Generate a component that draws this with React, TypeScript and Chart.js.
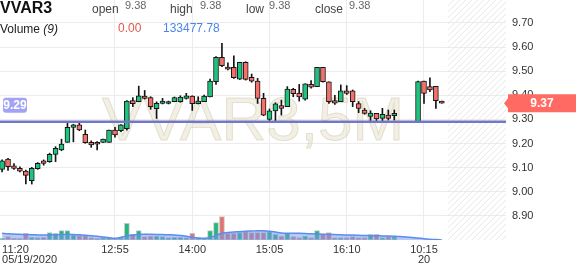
import React, { useEffect, useRef } from "react";
import { Chart, registerables } from "chart.js";

Chart.register(...registerables);

const FONT = '"Liberation Sans", Arial, Helvetica, sans-serif';

const symbol = "VVAR3";
const watermarkText = "VVAR3,5M";
const headerOpen = "9.38";
const headerHigh = "9.38";
const headerLow = "9.38";
const headerClose = "9.38";
const headerVolume = "0.00";
const headerVolumeMA = "133477.78";
const supportLevel = 9.29;

const opens = [9.093, 9.135, 9.107, 9.097, 9.086, 9.046, 9.096, 9.128, 9.125, 9.155,
  9.173, 9.205, 9.267, 9.277, 9.238, 9.205, 9.205, 9.205, 9.205, 9.256,
  9.253, 9.262, 9.378, 9.373, 9.397, 9.390, 9.344, 9.366, 9.366, 9.373,
  9.373, 9.387, 9.397, 9.365, 9.373, 9.393, 9.456, 9.557, 9.517, 9.516,
  9.467, 9.537, 9.474, 9.459, 9.387, 9.300, 9.335, 9.357, 9.353, 9.425,
  9.409, 9.384, 9.445, 9.436, 9.516, 9.456, 9.378, 9.374, 9.418, 9.418,
  9.366, 9.339, 9.312, 9.325, 9.304, 9.318, 9.315, null, null, null,
  9.290, 9.459, 9.436, 9.437, 9.376];

const highs = [9.132, 9.139, 9.117, 9.103, 9.090, 9.101, 9.121, 9.132, 9.160, 9.187,
  9.218, 9.287, 9.280, 9.287, 9.256, 9.211, 9.208, 9.218, 9.256, 9.267,
  9.279, 9.378, 9.390, 9.438, 9.420, 9.394, 9.373, 9.387, 9.376, 9.393,
  9.398, 9.408, 9.398, 9.394, 9.401, 9.467, 9.560, 9.615, 9.535, 9.564,
  9.537, 9.539, 9.488, 9.470, 9.408, 9.343, 9.369, 9.380, 9.436, 9.429,
  9.445, 9.447, 9.461, 9.516, 9.516, 9.456, 9.400, 9.443, 9.440, 9.422,
  9.374, 9.346, 9.336, 9.325, 9.346, 9.339, 9.339, null, null, null,
  9.459, 9.459, 9.472, 9.437, 9.376];

const lows = [9.082, 9.088, 9.093, 9.082, 9.032, 9.032, 9.093, 9.110, 9.122, 9.125,
  9.170, 9.205, 9.207, 9.253, 9.201, 9.184, 9.173, 9.205, 9.205, 9.226,
  9.249, 9.255, 9.353, 9.373, 9.384, 9.342, 9.304, 9.364, 9.364, 9.373,
  9.371, 9.384, 9.337, 9.364, 9.373, 9.393, 9.445, 9.519, 9.505, 9.470,
  9.465, 9.463, 9.454, 9.366, 9.315, 9.293, 9.288, 9.318, 9.353, 9.394,
  9.376, 9.380, 9.429, 9.436, 9.454, 9.366, 9.362, 9.374, 9.403, 9.353,
  9.328, 9.321, 9.295, 9.290, 9.293, 9.297, 9.297, null, null, null,
  9.290, 9.366, 9.415, 9.346, 9.367];

const closes = [9.128, 9.104, 9.097, 9.085, 9.068, 9.097, 9.118, 9.118, 9.155, 9.180,
  9.198, 9.267, 9.277, 9.256, 9.204, 9.194, 9.197, 9.218, 9.256, 9.236,
  9.277, 9.376, 9.365, 9.398, 9.387, 9.353, 9.367, 9.376, 9.374, 9.390,
  9.393, 9.398, 9.365, 9.376, 9.397, 9.459, 9.557, 9.523, 9.508, 9.473,
  9.537, 9.466, 9.459, 9.387, 9.318, 9.336, 9.365, 9.346, 9.426, 9.407,
  9.393, 9.447, 9.434, 9.516, 9.456, 9.373, 9.367, 9.418, 9.408, 9.374,
  9.345, 9.325, 9.326, 9.302, 9.321, 9.304, 9.325, null, null, null,
  9.457, 9.408, 9.422, 9.378, 9.367];

const volumes = [51000, 99000, 51000, 51000, 201000, 81000, 69000, 81000, 219000, 201000,
  279000, 279000, 150000, 129000, 129000, 69000, 51000, 69000, 69000, 51000,
  69000, 501000, 171000, 279000, 99000, 120000, 120000, 99000, 69000, 81000,
  81000, 69000, 201000, 69000, 51000, 279000, 519000, 699000, 201000, 201000,
  219000, 249000, 219000, 219000, 219000, 249000, 171000, 120000, 201000, 99000,
  69000, 120000, 69000, 279000, 171000, 219000, 69000, 69000, 69000, 99000,
  69000, 69000, 171000, 171000, 69000, 99000, 99000, null, null, null,
  0, 0, 0, 0, 0];

const volumeMA = [201000, 189000, 180000, 171000, 162000, 156000, 153000, 150000, 150000, 156000,
  165000, 171000, 165000, 156000, 144000, 129000, 111000, 90000, 69000, 51000,
  84000, 120000, 150000, 168000, 171000, 171000, 168000, 162000, 156000, 150000,
  135000, 114000, 84000, 60000, 54000, 75000, 135000, 204000, 225000, 240000,
  249000, 261000, 270000, 279000, 279000, 264000, 240000, 210000, 201000, 201000,
  201000, 195000, 186000, 180000, 174000, 168000, 162000, 156000, 150000, 147000,
  141000, 135000, 129000, 126000, 123000, 120000, 114000, 105000, 90000, 75000,
  60000, 39000, 24000, 12000, 3000];

const xTickIndex = [0, 19, 32, 45, 58, 71];
const xTickLabels: any[] = [["11:20", "05/19/2020"], "12:55", "14:00", "15:05", "16:10", ["10:15", "20"]];
const yTicks = [8.9, 9.0, 9.1, 9.2, 9.3, 9.4, 9.5, 9.6, 9.7];

const X_MIN = -0.35;
const X_MAX = 84.8;
const Y_MIN = 8.8;
const Y_MAX = 9.795;
const VOL_MAX = 7200000;

const GREEN = "#1cc47f";
const RED = "#f4716a";

const overlayPlugin = {
  id: "overlay",
  beforeDatasetsDraw(chart: any) {
    const { ctx, chartArea: a, scales } = chart;
    // watermark
    ctx.save();
    ctx.font = `62px ${FONT}`;
    ctx.textAlign = "center";
    ctx.textBaseline = "alphabetic";
    ctx.fillStyle = "rgba(226,219,196,0.45)";
    ctx.fillText(watermarkText, (a.left + a.right) / 2, a.top + 140);
    ctx.strokeStyle = "rgba(205,196,166,0.45)";
    ctx.lineWidth = 1;
    ctx.strokeText(watermarkText, (a.left + a.right) / 2, a.top + 140);
    ctx.restore();
    // future hatched zone
    const x0 = scales.x.getPixelForValue(opens.length);
    const h = a.bottom - a.top;
    ctx.save();
    ctx.beginPath();
    ctx.rect(x0, a.top, a.right - x0, h);
    ctx.clip();
    ctx.beginPath();
    ctx.strokeStyle = "#e6e6e6";
    ctx.lineWidth = 1;
    for (let s = x0 - h; s < a.right + 6; s += 6) {
      ctx.moveTo(s, a.bottom);
      ctx.lineTo(s + h, a.top);
    }
    ctx.stroke();
    ctx.restore();
  },
  afterDraw(chart: any) {
    const { ctx, chartArea: a, scales } = chart;
    ctx.save();
    // support label
    const sy = scales.y.getPixelForValue(supportLevel);
    ctx.fillStyle = "#a3a3f5";
    ctx.beginPath();
    (ctx as any).roundRect(a.left + 3, sy - 24, 24, 15, 3);
    ctx.fill();
    ctx.fillStyle = "#ffffff";
    ctx.font = `bold 12px ${FONT}`;
    ctx.textAlign = "center";
    ctx.textBaseline = "middle";
    ctx.fillText(supportLevel.toFixed(2), a.left + 15, sy - 16);
    // last price label
    let last = closes.length - 1;
    while (closes[last] == null) last--;
    const lp = closes[last] as number;
    const py = scales.y.getPixelForValue(lp);
    ctx.fillStyle = "#ff6a63";
    ctx.beginPath();
    ctx.moveTo(a.right - 2, py);
    ctx.lineTo(a.right + 2, py - 5);
    ctx.lineTo(a.right + 2, py - 9);
    ctx.lineTo(chart.width, py - 9);
    ctx.lineTo(chart.width, py + 9);
    ctx.lineTo(a.right + 2, py + 9);
    ctx.lineTo(a.right + 2, py + 5);
    ctx.closePath();
    ctx.fill();
    ctx.fillStyle = "#ffffff";
    ctx.font = `bold 12px ${FONT}`;
    ctx.fillText(lp.toFixed(2), (a.right + 2 + chart.width) / 2, py + 0.5);
    ctx.restore();
  },
};

function Txt(props: any) {
  const { left, top, size, color, bold, children } = props;
  return (
    <span
      style={{
        position: "absolute",
        left,
        top,
        fontSize: size,
        lineHeight: `${size}px`,
        fontFamily: FONT,
        color,
        fontWeight: bold ? "bold" : "normal",
        whiteSpace: "nowrap",
      }}
    >
      {children}
    </span>
  );
}

export default function App() {
  const ref = useRef<HTMLCanvasElement>(null);

  useEffect(() => {
    const canvas = ref.current as HTMLCanvasElement;
    const idx = opens.map((_, i) => i).filter((i) => opens[i] != null);
    const up = (i: number) => (closes[i] as number) >= (opens[i] as number);

    const chart = new Chart(canvas, {
      type: "bar",
      data: {
        datasets: [
          {
            type: "line",
            label: "support",
            data: [{ x: X_MIN, y: supportLevel }, { x: X_MAX, y: supportLevel }],
            borderColor: "#7377c6",
            borderWidth: 2.5,
            pointRadius: 0,
            yAxisID: "y",
            order: 1,
          } as any,
          {
            type: "bar",
            label: "body",
            data: idx.map((i) => ({ x: i, y: [opens[i], closes[i]] })),
            backgroundColor: (c: any) => (c.raw && up(c.raw.x) ? GREEN : RED),
            borderColor: "#151515",
            borderWidth: 1,
            borderSkipped: false,
            barThickness: 5,
            minBarLength: 2,
            grouped: false,
            yAxisID: "y",
            order: 2,
          } as any,
          {
            type: "bar",
            label: "wick",
            data: idx.map((i) => ({ x: i, y: [lows[i], highs[i]] })),
            backgroundColor: "#151515",
            borderWidth: 0,
            barThickness: 1,
            grouped: false,
            yAxisID: "y",
            order: 3,
          } as any,
          {
            type: "line",
            label: "volMA",
            data: volumeMA.map((v, i) => ({ x: i, y: v })),
            borderColor: "#5b8cf0",
            borderWidth: 1.5,
            backgroundColor: "rgba(112,150,236,0.5)",
            fill: "origin",
            pointRadius: 0,
            tension: 0.4,
            yAxisID: "yv",
            order: 4,
          } as any,
          {
            type: "bar",
            label: "volume",
            data: idx.map((i) => ({ x: i, y: volumes[i] })),
            backgroundColor: (c: any) => (c.raw && up(c.raw.x) ? "#22b77c" : "#e07570"),
            borderColor: "#c4c4c4",
            borderWidth: 1,
            borderSkipped: false,
            barThickness: 5,
            grouped: false,
            yAxisID: "yv",
            order: 5,
          } as any,
        ],
      },
      options: {
        animation: false,
        responsive: false,
        maintainAspectRatio: false,
        events: [],
        layout: { padding: 0 },
        plugins: { legend: { display: false }, tooltip: { enabled: false } },
        scales: {
          x: {
            type: "linear",
            min: X_MIN,
            max: X_MAX,
            offset: false,
            grid: {
              offset: false,
              color: (c: any) =>
                c.index === 0 || c.index === xTickIndex.length ? "rgba(0,0,0,0)" : "#ececec",
              drawTicks: false,
            },
            border: { display: false },
            afterBuildTicks: (s: any) => {
              s.ticks = [...xTickIndex, X_MAX].map((v) => ({ value: v }));
            },
            afterFit: (s: any) => {
              s.height = 28;
              s.paddingLeft = 0;
              s.paddingRight = 0;
            },
            ticks: {
              autoSkip: false,
              maxRotation: 0,
              minRotation: 0,
              align: "inner",
              padding: 5,
              color: "#333",
              font: { family: FONT, size: 11, lineHeight: 0.91 },
              callback: (_v: any, i: number) => (i < xTickLabels.length ? xTickLabels[i] : ""),
            },
          } as any,
          y: {
            type: "linear",
            position: "right",
            min: Y_MIN,
            max: Y_MAX,
            grid: { color: "#ececec", drawTicks: false },
            border: { display: false },
            afterBuildTicks: (s: any) => {
              s.ticks = yTicks.map((v) => ({ value: v }));
            },
            afterFit: (s: any) => {
              s.width = 70;
              s.paddingTop = 0;
              s.paddingBottom = 0;
            },
            ticks: {
              padding: 6,
              color: "#333",
              font: { family: FONT, size: 11 },
              callback: (v: any) => Number(v).toFixed(2),
            },
          } as any,
          yv: {
            type: "linear",
            display: false,
            min: 0,
            max: VOL_MAX,
          } as any,
        },
      },
      plugins: [overlayPlugin as any],
    });
    return () => chart.destroy();
  }, []);

  return (
    <div
      style={{
        position: "fixed",
        left: 0,
        top: 0,
        width: 576,
        height: 268,
        background: "#ffffff",
        overflow: "hidden",
      }}
    >
      <canvas
        ref={ref}
        width={576}
        height={268}
        style={{ position: "absolute", left: 0, top: 0, width: 576, height: 268 }}
      />
      <Txt left={0} top={0} size={16} color="#111" bold>{symbol}</Txt>
      <Txt left={92} top={2.5} size={12} color="#444">open</Txt>
      <Txt left={125} top={0} size={11} color="#666">{headerOpen}</Txt>
      <Txt left={170} top={2.5} size={12} color="#444">high</Txt>
      <Txt left={200} top={0} size={11} color="#666">{headerHigh}</Txt>
      <Txt left={246} top={2.5} size={12} color="#444">low</Txt>
      <Txt left={269} top={0} size={11} color="#666">{headerLow}</Txt>
      <Txt left={315} top={2.5} size={12} color="#444">close</Txt>
      <Txt left={349} top={0} size={11} color="#666">{headerClose}</Txt>
      <Txt left={0} top={23} size={12} color="#222">
        Volume <i>(9)</i>
      </Txt>
      <Txt left={118} top={21.5} size={12} color="#e0584f">{headerVolume}</Txt>
      <Txt left={163} top={21.5} size={12} color="#4a86e8">{headerVolumeMA}</Txt>
    </div>
  );
}
